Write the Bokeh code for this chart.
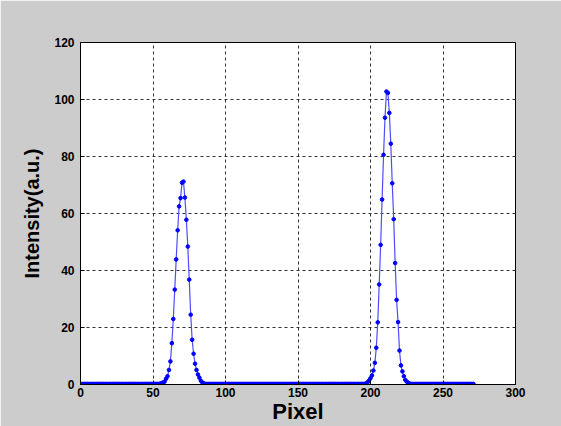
from bokeh.plotting import figure
from bokeh.models import Range1d, FixedTicker, ColumnDataSource
from bokeh.embed import file_html
from bokeh.resources import INLINE

# ---- data ----
x_start = 0
x_end = 271
baseline_level = 0.2

peak1_start = 55
peak1_values = [0.3, 0.5, 0.7, 1.0, 2.0, 2.9, 5.1, 8.1, 14.5, 23.0, 33.3, 43.9,
                54.1, 62.5, 65.4, 70.8, 71.2, 65.6, 57.8, 48.4, 36.8, 24.5,
                15.7, 10.8, 7.3, 5.1, 3.5, 2.4, 1.3, 0.7, 0.4]

peak2_start = 197
peak2_values = [0.4, 0.8, 1.4, 2.2, 3.2, 4.9, 7.6, 12.9, 21.8, 35.1, 49.0, 64.9,
                80.6, 93.6, 102.8, 102.3, 95.3, 84.5, 70.6, 58.0, 42.6, 29.7,
                21.9, 11.9, 6.7, 4.6, 2.9, 1.6, 1.0, 0.6, 0.3]

x_ticks = [0, 50, 100, 150, 200, 250, 300]
y_ticks = [0, 20, 40, 60, 80, 100, 120]
x_label = "Pixel"
y_label = "Intensity(a.u.)"

# ---- build series ----
xs = list(range(x_start, x_end + 1))
ys = [baseline_level] * len(xs)
for i, v in enumerate(peak1_values):
    ys[peak1_start + i - x_start] = v
for i, v in enumerate(peak2_values):
    ys[peak2_start + i - x_start] = v
src = ColumnDataSource(dict(x=xs, y=ys))

p = figure(width=561, height=426, output_backend="svg", toolbar_location=None,
           x_range=Range1d(0, 300), y_range=Range1d(0, 120),
           min_border_left=80, min_border_right=46, min_border_top=42,
           min_border_bottom=42)
p.border_fill_color = "#cccccc"
p.background_fill_color = "white"
p.outline_line_color = "black"
p.outline_line_width = 1

p.line("x", "y", source=src, line_color="#4d4dff", line_width=1.2)
p.scatter("x", "y", source=src, size=3.6, fill_color="#0000ff",
          line_color="#0000ff")

for ax in (p.xaxis[0], p.yaxis[0]):
    ax.major_label_text_font = "Liberation Sans"
    ax.major_label_text_font_style = "bold"
    ax.major_label_text_font_size = "12px"
    ax.major_label_text_color = "black"
    ax.axis_label_text_font = "Liberation Sans"
    ax.axis_label_text_font_style = "bold"
    ax.axis_label_text_color = "black"
    ax.minor_tick_line_color = None
    ax.major_tick_in = 4
    ax.major_tick_out = 0
    ax.axis_line_color = "black"
    ax.major_tick_line_color = "black"

p.xaxis[0].ticker = FixedTicker(ticks=x_ticks)
p.yaxis[0].ticker = FixedTicker(ticks=y_ticks)
p.xaxis.axis_label = x_label
p.yaxis.axis_label = y_label
p.xaxis.axis_label_text_font_size = "22px"
p.yaxis.axis_label_text_font_size = "20px"
p.xaxis.major_label_standoff = 3
p.xaxis.axis_label_standoff = -1
p.yaxis.major_label_standoff = 6
p.yaxis.axis_label_standoff = 8

for g in (p.xgrid[0], p.ygrid[0]):
    g.grid_line_color = "#303030"
    g.grid_line_dash = "3 3"
    g.grid_line_width = 1

open("out.html", "w").write(file_html(p, INLINE))
